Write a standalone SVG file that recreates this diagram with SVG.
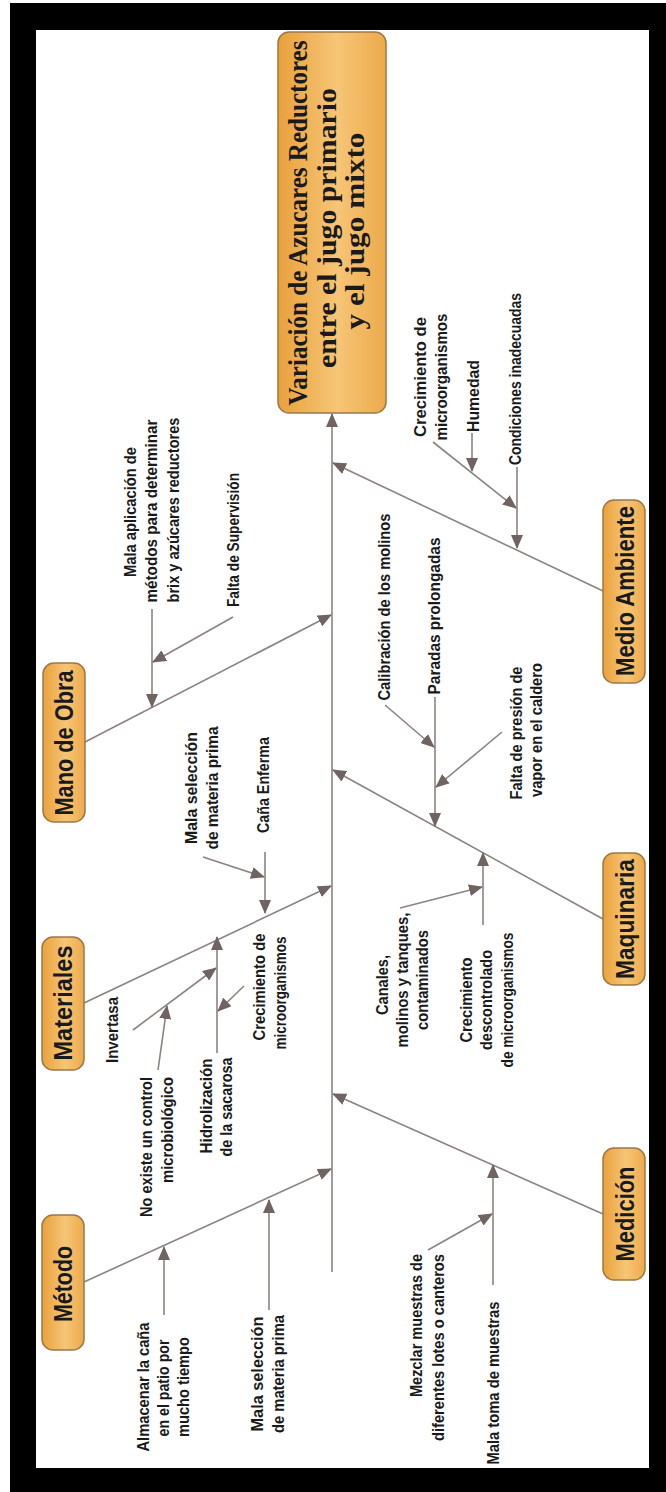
<svg xmlns="http://www.w3.org/2000/svg" width="666" height="1492" viewBox="0 0 666 1492">
  <defs>
    <linearGradient id="boxFill" x1="0" y1="0" x2="1" y2="0">
      <stop offset="0" stop-color="#E9A13C"/>
      <stop offset="0.55" stop-color="#F6C576"/>
      <stop offset="1" stop-color="#EDAA4C"/>
    </linearGradient>
    <marker id="arrow" viewBox="0 0 14 12" refX="13" refY="6" markerWidth="14" markerHeight="12" markerUnits="userSpaceOnUse" orient="auto">
      <path d="M0,0 L14,6 L0,12 z" fill="#6f6462"/>
    </marker>
    <style>
      .box { fill: url(#boxFill); stroke: #9c7843; stroke-width: 1.5; }
      .cat { font-family: "Liberation Sans", Arial, sans-serif; font-weight: bold; font-size: 26px; fill: #1a1a1a; }
      .title { font-family: "Liberation Serif", "Times New Roman", serif; font-weight: bold; font-size: 27px; fill: #1a1a1a; }
      .lbl { font-family: "Liberation Sans", Arial, sans-serif; font-weight: bold; font-size: 17px; fill: #1a1a1a; }
      .ln { stroke: #8c8381; stroke-width: 1.6; fill: none; }
      .arr { stroke: #8c8381; stroke-width: 1.6; fill: none; marker-end: url(#arrow); }
    </style>
  </defs>

  <!-- frame -->
  <rect x="0" y="0" width="666" height="1492" fill="#ffffff"/>
  <rect x="10" y="3" width="656" height="1489" fill="#000000"/>
  <rect x="36" y="30" width="613" height="1438" fill="#ffffff"/>

  <!-- connectors -->
  <g id="connectors">
    <!-- spine -->
    <line class="arr" x1="332" y1="1272" x2="332" y2="414"/>
    <!-- main branches -->
    <line class="arr" x1="85" y1="742" x2="331" y2="615"/>
    <line class="arr" x1="84" y1="1003" x2="331" y2="886"/>
    <line class="arr" x1="84" y1="1282" x2="331" y2="1169"/>
    <line class="arr" x1="603" y1="591" x2="333" y2="463"/>
    <line class="arr" x1="603" y1="919" x2="333" y2="770"/>
    <line class="arr" x1="603" y1="1214" x2="333" y2="1094"/>

    <!-- Mano de Obra causes -->
    <line class="arr" x1="152" y1="609" x2="152" y2="707"/>
    <line class="arr" x1="233" y1="617" x2="153" y2="662"/>

    <!-- Materiales causes -->
    <line class="arr" x1="265" y1="852" x2="265" y2="913"/>
    <line class="arr" x1="203" y1="857" x2="264" y2="877"/>
    <line class="arr" x1="217" y1="1053" x2="217" y2="937"/>
    <line class="arr" x1="244" y1="986" x2="218" y2="1011"/>
    <line class="arr" x1="133" y1="1030" x2="216" y2="968"/>
    <line class="arr" x1="158" y1="1070" x2="167" y2="1006"/>

    <!-- Método causes -->
    <line class="arr" x1="164" y1="1315" x2="164" y2="1247"/>
    <line class="arr" x1="269" y1="1310" x2="269" y2="1200"/>

    <!-- Medio Ambiente causes -->
    <line class="arr" x1="517" y1="467" x2="517" y2="548"/>
    <line class="arr" x1="433" y1="442" x2="516" y2="508"/>
    <line class="arr" x1="472" y1="433" x2="472" y2="471"/>

    <!-- Maquinaria causes -->
    <line class="arr" x1="435" y1="697" x2="435" y2="826"/>
    <line class="arr" x1="385" y1="705" x2="434" y2="747"/>
    <line class="arr" x1="502" y1="732" x2="436" y2="787"/>
    <line class="arr" x1="483" y1="925" x2="483" y2="853"/>
    <line class="arr" x1="400" y1="908" x2="482" y2="887"/>

    <!-- Medición causes -->
    <line class="arr" x1="493" y1="1285" x2="493" y2="1165"/>
    <line class="arr" x1="428" y1="1250" x2="492" y2="1214"/>
  </g>

  <!-- effect -->
  <g id="effect">
    <rect class="box" x="278" y="32" width="108" height="381" rx="11"/>
    <text class="title" text-anchor="middle" transform="translate(307,223) rotate(-90)" textLength="365" lengthAdjust="spacingAndGlyphs">Variación de Azucares Reductores</text>
    <text class="title" text-anchor="middle" transform="translate(336,228) rotate(-90)" textLength="280" lengthAdjust="spacingAndGlyphs">entre el jugo primario</text>
    <text class="title" text-anchor="middle" transform="translate(364,231) rotate(-90)" textLength="197" lengthAdjust="spacingAndGlyphs">y el jugo mixto</text>
  </g>

  <!-- categories -->
  <g id="mano-de-obra">
    <rect class="box" x="43" y="663" width="42" height="159" rx="11"/>
    <text class="cat" text-anchor="middle" transform="translate(73,743) rotate(-90)" textLength="145" lengthAdjust="spacingAndGlyphs">Mano de Obra</text>
  </g>
  <g id="materiales">
    <rect class="box" x="42" y="937" width="42" height="133" rx="11"/>
    <text class="cat" text-anchor="middle" transform="translate(72,1003) rotate(-90)" textLength="115" lengthAdjust="spacingAndGlyphs">Materiales</text>
  </g>
  <g id="metodo">
    <rect class="box" x="42" y="1215" width="42" height="135" rx="11"/>
    <text class="cat" text-anchor="middle" transform="translate(72,1284) rotate(-90)" textLength="76" lengthAdjust="spacingAndGlyphs">Método</text>
  </g>
  <g id="medio-ambiente">
    <rect class="box" x="603" y="500" width="42" height="183" rx="11"/>
    <text class="cat" text-anchor="middle" transform="translate(634,591) rotate(-90)" textLength="170" lengthAdjust="spacingAndGlyphs">Medio Ambiente</text>
  </g>
  <g id="maquinaria">
    <rect class="box" x="603" y="853" width="42" height="132" rx="11"/>
    <text class="cat" text-anchor="middle" transform="translate(634,919) rotate(-90)" textLength="120" lengthAdjust="spacingAndGlyphs">Maquinaria</text>
  </g>
  <g id="medicion">
    <rect class="box" x="603" y="1148" width="42" height="132" rx="11"/>
    <text class="cat" text-anchor="middle" transform="translate(634,1214) rotate(-90)" textLength="95" lengthAdjust="spacingAndGlyphs">Medición</text>
  </g>

  <!-- cause labels -->
  <g id="causes-mano-de-obra">
    <text class="lbl" text-anchor="middle" transform="translate(136,512) rotate(-90)" textLength="130" lengthAdjust="spacingAndGlyphs">Mala aplicación de</text>
    <text class="lbl" text-anchor="middle" transform="translate(157,511) rotate(-90)" textLength="183" lengthAdjust="spacingAndGlyphs">métodos para determinar</text>
    <text class="lbl" text-anchor="middle" transform="translate(179,510) rotate(-90)" textLength="185" lengthAdjust="spacingAndGlyphs">brix y azúcares reductores</text>
    <text class="lbl" text-anchor="middle" transform="translate(239,540) rotate(-90)" textLength="134" lengthAdjust="spacingAndGlyphs">Falta de Supervisión</text>
  </g>
  <g id="causes-materiales">
    <text class="lbl" text-anchor="middle" transform="translate(197,788) rotate(-90)" textLength="112" lengthAdjust="spacingAndGlyphs">Mala selección</text>
    <text class="lbl" text-anchor="middle" transform="translate(218,788) rotate(-90)" textLength="123" lengthAdjust="spacingAndGlyphs">de materia prima</text>
    <text class="lbl" text-anchor="middle" transform="translate(269,785) rotate(-90)" textLength="96" lengthAdjust="spacingAndGlyphs">Caña Enferma</text>
    <text class="lbl" text-anchor="middle" transform="translate(265,987) rotate(-90)" textLength="107" lengthAdjust="spacingAndGlyphs">Crecimiento de</text>
    <text class="lbl" text-anchor="middle" transform="translate(286,993) rotate(-90)" textLength="113" lengthAdjust="spacingAndGlyphs">microorganismos</text>
    <text class="lbl" text-anchor="middle" transform="translate(212,1106) rotate(-90)" textLength="95" lengthAdjust="spacingAndGlyphs">Hidrolización</text>
    <text class="lbl" text-anchor="middle" transform="translate(232,1107) rotate(-90)" textLength="99" lengthAdjust="spacingAndGlyphs">de la sacarosa</text>
    <text class="lbl" text-anchor="middle" transform="translate(118,1030) rotate(-90)" textLength="66" lengthAdjust="spacingAndGlyphs">Invertasa</text>
    <text class="lbl" text-anchor="end" transform="translate(152,1077) rotate(-90)" textLength="140" lengthAdjust="spacingAndGlyphs">No existe un control</text>
    <text class="lbl" text-anchor="end" transform="translate(173,1077) rotate(-90)" textLength="106" lengthAdjust="spacingAndGlyphs">microbiológico</text>
  </g>
  <g id="causes-metodo">
    <text class="lbl" text-anchor="middle" transform="translate(149,1387) rotate(-90)" textLength="129" lengthAdjust="spacingAndGlyphs">Almacenar la caña</text>
    <text class="lbl" text-anchor="middle" transform="translate(169,1388) rotate(-90)" textLength="97" lengthAdjust="spacingAndGlyphs">en el patio por</text>
    <text class="lbl" text-anchor="middle" transform="translate(189,1387) rotate(-90)" textLength="100" lengthAdjust="spacingAndGlyphs">mucho tiempo</text>
    <text class="lbl" text-anchor="middle" transform="translate(263,1374) rotate(-90)" textLength="115" lengthAdjust="spacingAndGlyphs">Mala selección</text>
    <text class="lbl" text-anchor="middle" transform="translate(284,1374) rotate(-90)" textLength="118" lengthAdjust="spacingAndGlyphs">de materia prima</text>
  </g>
  <g id="causes-medio-ambiente">
    <text class="lbl" text-anchor="middle" transform="translate(426,377) rotate(-90)" textLength="120" lengthAdjust="spacingAndGlyphs">Crecimiento de</text>
    <text class="lbl" text-anchor="middle" transform="translate(447,377) rotate(-90)" textLength="127" lengthAdjust="spacingAndGlyphs">microorganismos</text>
    <text class="lbl" text-anchor="middle" transform="translate(479,396) rotate(-90)" textLength="72" lengthAdjust="spacingAndGlyphs">Humedad</text>
    <text class="lbl" text-anchor="middle" transform="translate(521,379) rotate(-90)" textLength="172" lengthAdjust="spacingAndGlyphs">Condiciones inadecuadas</text>
  </g>
  <g id="causes-maquinaria">
    <text class="lbl" text-anchor="middle" transform="translate(390,607) rotate(-90)" textLength="187" lengthAdjust="spacingAndGlyphs">Calibración de los molinos</text>
    <text class="lbl" text-anchor="middle" transform="translate(440,616) rotate(-90)" textLength="157" lengthAdjust="spacingAndGlyphs">Paradas prolongadas</text>
    <text class="lbl" text-anchor="middle" transform="translate(522,733) rotate(-90)" textLength="133" lengthAdjust="spacingAndGlyphs">Falta de presión de</text>
    <text class="lbl" text-anchor="middle" transform="translate(542,730) rotate(-90)" textLength="134" lengthAdjust="spacingAndGlyphs">vapor en el caldero</text>
    <text class="lbl" text-anchor="middle" transform="translate(388,985) rotate(-90)" textLength="60" lengthAdjust="spacingAndGlyphs">Canales,</text>
    <text class="lbl" text-anchor="middle" transform="translate(408,980) rotate(-90)" textLength="135" lengthAdjust="spacingAndGlyphs">molinos y tanques,</text>
    <text class="lbl" text-anchor="middle" transform="translate(428,980) rotate(-90)" textLength="100" lengthAdjust="spacingAndGlyphs">contaminados</text>
    <text class="lbl" text-anchor="middle" transform="translate(472,1000) rotate(-90)" textLength="85" lengthAdjust="spacingAndGlyphs">Crecimiento</text>
    <text class="lbl" text-anchor="middle" transform="translate(492,1000) rotate(-90)" textLength="100" lengthAdjust="spacingAndGlyphs">descontrolado</text>
    <text class="lbl" text-anchor="middle" transform="translate(513,1000) rotate(-90)" textLength="135" lengthAdjust="spacingAndGlyphs">de microorganismos</text>
  </g>
  <g id="causes-medicion">
    <text class="lbl" text-anchor="end" transform="translate(422,1254) rotate(-90)" textLength="143" lengthAdjust="spacingAndGlyphs">Mezclar muestras de</text>
    <text class="lbl" text-anchor="end" transform="translate(444,1254) rotate(-90)" textLength="187" lengthAdjust="spacingAndGlyphs">diferentes lotes o canteros</text>
    <text class="lbl" text-anchor="middle" transform="translate(499,1383) rotate(-90)" textLength="163" lengthAdjust="spacingAndGlyphs">Mala toma de muestras</text>
  </g>
</svg>
